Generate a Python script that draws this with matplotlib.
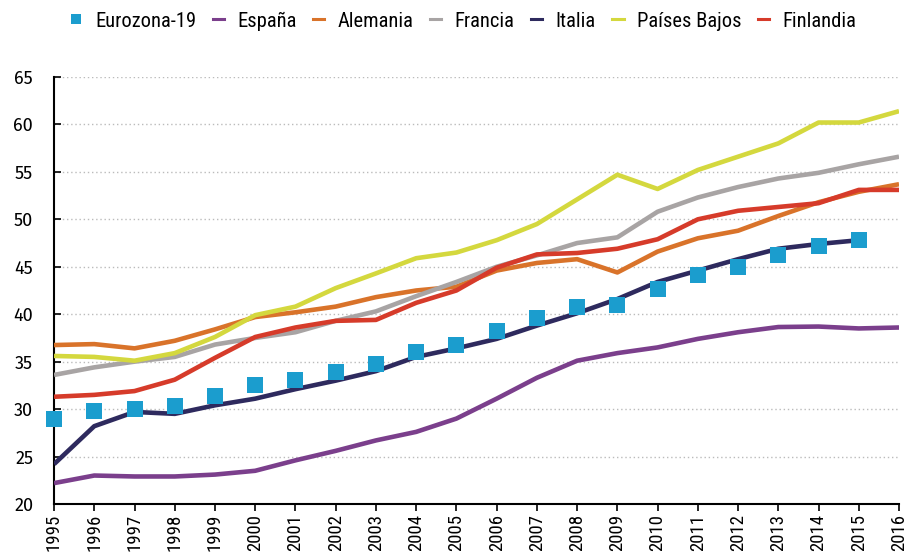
import matplotlib
matplotlib.use("Agg")
import matplotlib.pyplot as plt
from matplotlib.lines import Line2D
from matplotlib import font_manager

names = {f.name for f in font_manager.fontManager.ttflist}
def pick(cands, default='DejaVu Sans'):
    for c in cands:
        if c in names:
            return c
    return default

narrow = pick(['Roboto Condensed', 'Archivo Narrow', 'PT Sans Narrow', 'Fira Sans Condensed',
               'Barlow Semi Condensed', 'Open Sans Condensed', 'Liberation Sans Narrow'])
regular = pick(['Fira Sans', 'Roboto', 'Open Sans', 'Lato'])

years = list(range(1995, 2017))
eurozona = [29.0, 29.8, 30.0, 30.3, 31.4, 32.5, 33.1, 33.9, 34.8, 36.0, 36.8, 38.2, 39.6, 40.8, 41.0, 42.7, 44.1, 45.0, 46.2, 47.2, 47.8]
espana = [22.2, 23.0, 22.9, 22.9, 23.1, 23.5, 24.6, 25.6, 26.7, 27.6, 29.0, 31.1, 33.3, 35.1, 35.9, 36.5, 37.4, 38.1, 38.65, 38.7, 38.5, 38.6]
alemania = [36.75, 36.85, 36.4, 37.2, 38.4, 39.7, 40.2, 40.8, 41.8, 42.5, 42.9, 44.6, 45.4, 45.8, 44.4, 46.6, 48.0, 48.8, 50.35, 51.8, 52.9, 53.7]
francia = [33.6, 34.4, 35.0, 35.5, 36.8, 37.5, 38.1, 39.3, 40.3, 41.9, 43.4, 45.0, 46.2, 47.5, 48.1, 50.8, 52.3, 53.4, 54.3, 54.9, 55.8, 56.6]
italia = [24.2, 28.2, 29.7, 29.5, 30.4, 31.1, 32.1, 33.0, 34.0, 35.5, 36.4, 37.4, 38.8, 40.1, 41.6, 43.4, 44.6, 45.8, 46.9, 47.4, 47.8]
paises_bajos = [35.6, 35.5, 35.1, 35.9, 37.6, 39.9, 40.8, 42.75, 44.3, 45.9, 46.5, 47.8, 49.5, 52.1, 54.7, 53.2, 55.2, 56.6, 58.0, 60.2, 60.2, 61.4]
finlandia = [31.3, 31.5, 31.9, 33.1, 35.4, 37.6, 38.6, 39.3, 39.4, 41.2, 42.5, 44.9, 46.3, 46.45, 46.9, 47.9, 50.0, 50.9, 51.3, 51.7, 53.1, 53.1]

c_euro = '#1b9dce'
c_esp = '#7b3f8c'
c_ale = '#d9732a'
c_fra = '#a8a4a4'
c_ita = '#2e2a5e'
c_pb = '#d4d83e'
c_fin = '#d63b2a'

fig = plt.figure(figsize=(9.05, 5.55), dpi=100)
ax = fig.add_axes([0.0597, 0.0919, 0.9337, 0.7694])

lw = 3.3
ax.plot(years, espana, color=c_esp, lw=lw, solid_capstyle='butt', zorder=3)
ax.plot(years, alemania, color=c_ale, lw=lw, solid_capstyle='butt', zorder=3)
ax.plot(years, francia, color=c_fra, lw=lw, solid_capstyle='butt', zorder=3)
ax.plot(years[:len(italia)], italia, color=c_ita, lw=lw, solid_capstyle='butt', zorder=3)
ax.plot(years, paises_bajos, color=c_pb, lw=lw, solid_capstyle='butt', zorder=3)
ax.plot(years, finlandia, color=c_fin, lw=lw, solid_capstyle='butt', zorder=3)
ax.plot(years[:len(eurozona)], eurozona, linestyle='none', marker='s', markersize=11.5,
        color=c_euro, markeredgewidth=0, zorder=4, clip_on=False)

ax.set_xlim(1995, 2016)
ax.set_ylim(20, 65)
ax.set_xticks(years)
ax.set_xticklabels([str(y) for y in years], rotation=90, fontsize=13.5, family=narrow)
ax.set_yticks(range(20, 70, 5))
ax.set_yticklabels([str(v) for v in range(20, 70, 5)], fontsize=13, family=regular)
ax.tick_params(axis='x', direction='out', length=5, width=1.2, pad=2)
ax.tick_params(axis='y', direction='in', length=5, width=1.2, pad=15)
for s in ['top', 'right']:
    ax.spines[s].set_visible(False)
for s in ['left', 'bottom']:
    ax.spines[s].set_linewidth(1.5)
    ax.spines[s].set_color('black')
ax.yaxis.grid(True, linestyle=(0, (1, 2)), color='#bbbbbb', linewidth=1.0)
ax.set_axisbelow(True)

handles = [
    Line2D([], [], linestyle='none', marker='s', markersize=6.8, color=c_euro, markeredgewidth=0),
    Line2D([], [], color=c_esp, lw=2.2),
    Line2D([], [], color=c_ale, lw=2.2),
    Line2D([], [], color=c_fra, lw=2.2),
    Line2D([], [], color=c_ita, lw=2.2),
    Line2D([], [], color=c_pb, lw=2.2),
    Line2D([], [], color=c_fin, lw=2.2),
]
labels = ['Eurozona-19', 'España', 'Alemania', 'Francia', 'Italia', 'Países Bajos', 'Finlandia']
fig.legend(handles, labels, loc='center', bbox_to_anchor=(0.512, 0.962), ncol=7, frameon=False,
           handlelength=0.55, handletextpad=0.65, columnspacing=0.8,
           prop={'family': narrow, 'size': 14.8})

fig.savefig('out.png', dpi=100)
